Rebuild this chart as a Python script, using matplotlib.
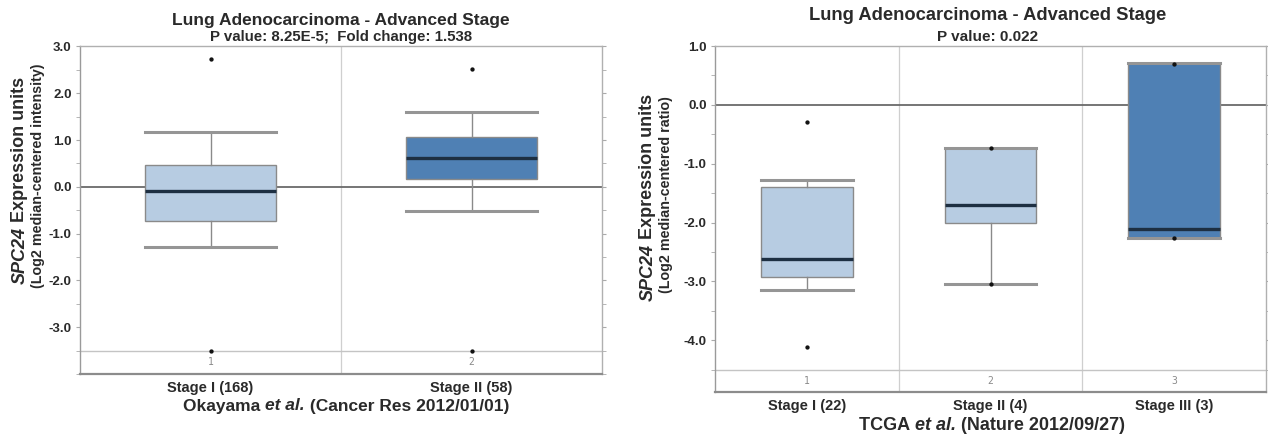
import matplotlib
matplotlib.use("Agg")
import matplotlib.pyplot as plt
from matplotlib.ticker import MultipleLocator, FixedLocator

plt.rcParams['font.family'] = ['Liberation Sans Narrow', 'Liberation Sans', 'DejaVu Sans']

# Okayama panel (left)
left_labels = ['Stage I (168)', 'Stage II (58)']
left_q1 = [-0.73, 0.17]
left_med = [-0.085, 0.62]
left_q3 = [0.46, 1.07]
left_whislo = [-1.28, -0.51]
left_whishi = [1.18, 1.61]
left_min = [-3.5, -3.5]
left_max = [2.73, 2.52]

# TCGA panel (right)
right_labels = ['Stage I (22)', 'Stage II (4)', 'Stage III (3)']
right_q1 = [-2.92, -2.0, -2.26]
right_med = [-2.62, -1.71, -2.11]
right_q3 = [-1.395, -0.73, 0.71]
right_whislo = [-3.14, -3.05, -2.26]
right_whishi = [-1.27, -0.73, 0.71]
right_min = [-4.12, -3.05, -2.26]
right_max = [-0.29, -0.74, 0.70]

LIGHT = '#b7cce2'
DARK = '#4f80b4'
EDGE = '#8a8a8a'
MED = '#1d2f42'
TXT = '#2a2a2a'


def rich_text(fig, x, y, parts, size, rotation=0, color=TXT):
    """Draw text pieces with different styles one after another, centred on (x, y) px."""
    r = fig.canvas.get_renderer()
    texts = []
    for s, style in parts:
        t = fig.text(0, 0, s, fontsize=size, fontweight='bold', fontstyle=style,
                     color=color, rotation=rotation, rotation_mode='anchor',
                     ha='left', va='center')
        texts.append(t)
    lens = []
    for t in texts:
        bb = t.get_window_extent(r)
        lens.append(bb.height if rotation == 90 else bb.width)
    total = sum(lens)
    W, H = fig.bbox.width, fig.bbox.height
    pos = -total / 2
    for t, L in zip(texts, lens):
        if rotation == 90:
            t.set_position((x / W, 1 - (y - pos) / H))
        else:
            t.set_position(((x + pos) / W, 1 - y / H))
        pos += L


def panel(ax, labels, q1, med, q3, wlo, whi, mn, mx, colors, ylim, strip, major):
    n = len(labels)
    pos = list(range(1, n + 1))
    stats = []
    for i in range(n):
        stats.append(dict(med=med[i], q1=q1[i], q3=q3[i], whislo=wlo[i], whishi=whi[i],
                          fliers=[]))
    bp = ax.bxp(stats, positions=pos, widths=0.5, capwidths=0.5, patch_artist=True,
                showfliers=False,
                boxprops=dict(edgecolor=EDGE, linewidth=1.0),
                whiskerprops=dict(color=EDGE, linewidth=1.0),
                capprops=dict(color='#959595', linewidth=2.2),
                medianprops=dict(color=MED, linewidth=2.4))
    for patch, c in zip(bp['boxes'], colors):
        patch.set_facecolor(c)
    ax.plot(pos, mn, 'o', color='#111111', ms=2.1, zorder=5)
    ax.plot(pos, mx, 'o', color='#111111', ms=2.1, zorder=5)

    ax.set_xlim(0.5, n + 0.5)
    ax.set_ylim(*ylim)
    ax.axhline(0, color='#6a6a6a', lw=1.3, zorder=1)
    ax.axhline(strip, color='#c4c4c4', lw=1.0, zorder=1)
    for k in range(1, n):
        ax.axvline(k + 0.5, color='#cfcfcf', lw=0.9, zorder=0)
    for i in range(n):
        ax.text(pos[i], (strip + ylim[0]) / 2, str(i + 1), fontsize=7, color='#8a8a8a',
                ha='center', va='center', family='DejaVu Sans Mono', stretch='condensed')

    ax.set_xticks(pos)
    ax.set_xticklabels(labels, fontsize=10.5, fontweight='bold', color=TXT)
    ax.tick_params(axis='x', length=0, pad=5)
    ax.yaxis.set_major_locator(FixedLocator(major))
    ax.yaxis.set_minor_locator(MultipleLocator(0.5))
    ax.set_yticklabels(['%.1f' % v for v in major], fontsize=9.5, fontweight='bold', color=TXT)
    ax.tick_params(axis='y', which='both', direction='out', length=3, color='#aaaaaa',
                   right=True, labelright=False, pad=3)
    for s in ax.spines.values():
        s.set_color('#b0b0b0')
        s.set_linewidth(1.0)
    ax.spines['bottom'].set_color('#8c8c8c')
    ax.spines['bottom'].set_linewidth(1.6)
    ax.spines['left'].set_color('#9a9a9a')


fig = plt.figure(figsize=(12.68, 4.36), dpi=100)
W, H = 1268, 436

ax1 = fig.add_axes([80 / W, 1 - 374 / H, 522 / W, (374 - 46.5) / H])
panel(ax1, left_labels, left_q1, left_med, left_q3, left_whislo, left_whishi,
      left_min, left_max, [LIGHT, DARK], (-4.0, 3.0), -3.5,
      [3.0, 2.0, 1.0, 0.0, -1.0, -2.0, -3.0])

ax2 = fig.add_axes([715 / W, 1 - 392 / H, 551 / W, (392 - 46) / H])
panel(ax2, right_labels, right_q1, right_med, right_q3, right_whislo, right_whishi,
      right_min, right_max, [LIGHT, LIGHT, DARK], (-4.88, 1.0), -4.5,
      [1.0, 0.0, -1.0, -2.0, -3.0, -4.0])

# titles
fig.text(341 / W, 1 - 20 / H, 'Lung Adenocarcinoma - Advanced Stage', fontsize=12.5,
         fontweight='bold', color=TXT, ha='center', va='center')
fig.text(341 / W, 1 - 37 / H, 'P value: 8.25E-5;  Fold change: 1.538', fontsize=10.8,
         fontweight='bold', color=TXT, ha='center', va='center')
fig.text(988 / W, 1 - 16 / H, 'Lung Adenocarcinoma - Advanced Stage', fontsize=13.2,
         fontweight='bold', color=TXT, ha='center', va='center')
fig.text(988 / W, 1 - 37 / H, 'P value: 0.022', fontsize=11,
         fontweight='bold', color=TXT, ha='center', va='center')

fig.canvas.draw()

# y labels
rich_text(fig, 20, 180, [('SPC24', 'italic'), (' Expression units', 'normal')], 13, rotation=90)
fig.text(38 / W, 1 - 176 / H, '(Log2 median-centered intensity)', fontsize=10.3,
         fontweight='bold', color=TXT, rotation=90, ha='center', va='center')
rich_text(fig, 648, 197, [('SPC24', 'italic'), (' Expression units', 'normal')], 13, rotation=90)
fig.text(666 / W, 1 - 195 / H, '(Log2 median-centered ratio)', fontsize=10.3,
         fontweight='bold', color=TXT, rotation=90, ha='center', va='center')

# source lines
rich_text(fig, 346, 406, [('Okayama ', 'normal'), ('et al.', 'italic'),
                          (' (Cancer Res 2012/01/01)', 'normal')], 12.5)
rich_text(fig, 992, 426, [('TCGA ', 'normal'), ('et al.', 'italic'),
                          (' (Nature 2012/09/27)', 'normal')], 13)

fig.savefig('out.png', dpi=100, facecolor='white')
